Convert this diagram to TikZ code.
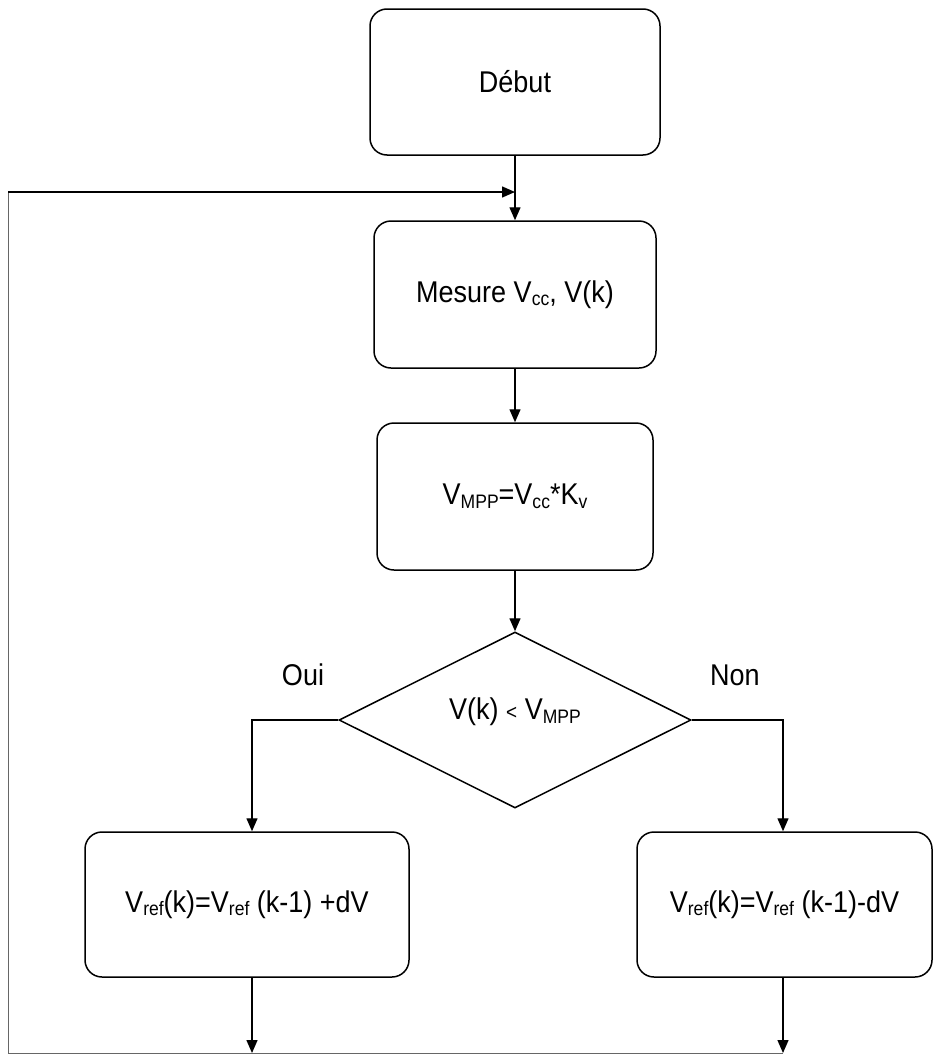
\documentclass[tikz,border=0pt]{standalone}
\usepackage{fontspec}
\setmainfont[FakeStretch=0.9]{Liberation Sans}
\usetikzlibrary{arrows.meta,shapes.geometric}
\newcommand\sbx[1]{\raisebox{-0.12em}{\fontsize{19.5}{19.5}\selectfont #1}}
\begin{document}
\begin{tikzpicture}[x=1pt,y=-1pt,
  every node/.style={font=\fontsize{30}{34}\selectfont},
  box/.style={draw, line width=1.5pt, rounded corners=17pt, inner sep=0pt},
  dec/.style={draw, line width=1.5pt, shape=diamond, inner sep=0pt, aspect=2},
  arr/.style={line width=1.4pt, -{Triangle[length=13pt,width=11pt]}},
  ln/.style={line width=1.4pt},
  thin gray/.style={line width=1pt, draw=black!60}]
\useasboundingbox (0,0) rectangle (933,1055);
% nodes
\node[box, minimum width=290, minimum height=146] (debut) at (515,82) {Début};
\node[box, minimum width=282, minimum height=147] (mesure) at (515,294.5) {Mesure V\sbx{cc}, V(k)};
\node[box, minimum width=276, minimum height=147] (vmpp) at (515,496.5) {V\sbx{MPP}=V\sbx{cc}*K\sbx{v}};
\node[dec, minimum width=352, minimum height=176] (test) at (515,720) {};
\node (testlbl) at (515,712) {V(k) {\fontsize{21}{21}\selectfont <} V\sbx{MPP}};
\node[box, minimum width=324, minimum height=145] (left) at (247,904.5) {V\sbx{ref}(k)=V\sbx{ref} (k-1) +dV};
\node[box, minimum width=295, minimum height=145] (right) at (784.5,904.5) {V\sbx{ref}(k)=V\sbx{ref} (k-1)-dV};
\node (oui) at (303,675) {Oui};
\node (non) at (735,675) {Non};
% coordinates
\coordinate (spine) at (515,0);
\coordinate (lx) at (252,0);
\coordinate (rx) at (783,0);
\coordinate (fbtop) at (8,192);
\coordinate (fbbot) at (8,1053);
\coordinate (lend) at (252,1053);
\coordinate (rend) at (783,1053);
\coordinate (merge) at (515,192);
% connectors
\draw[ln] (debut.south -| spine) -- (merge);
\draw[arr] (merge) -- (mesure.north -| spine);
\draw[arr] (mesure.south -| spine) -- (vmpp.north -| spine);
\draw[arr] (vmpp.south -| spine) -- (test.north);
\draw[arr] (test.west) -| (left.north -| lx);
\draw[arr] (test.east) -| (right.north -| rx);
\draw[arr] (left.south -| lx) -- (lend);
\draw[arr] (right.south -| rx) -- (rend);
\draw[thin gray] (rend) -- (fbbot) -- (fbtop);
\draw[arr] (fbtop) -- (merge);
\end{tikzpicture}
\end{document}
